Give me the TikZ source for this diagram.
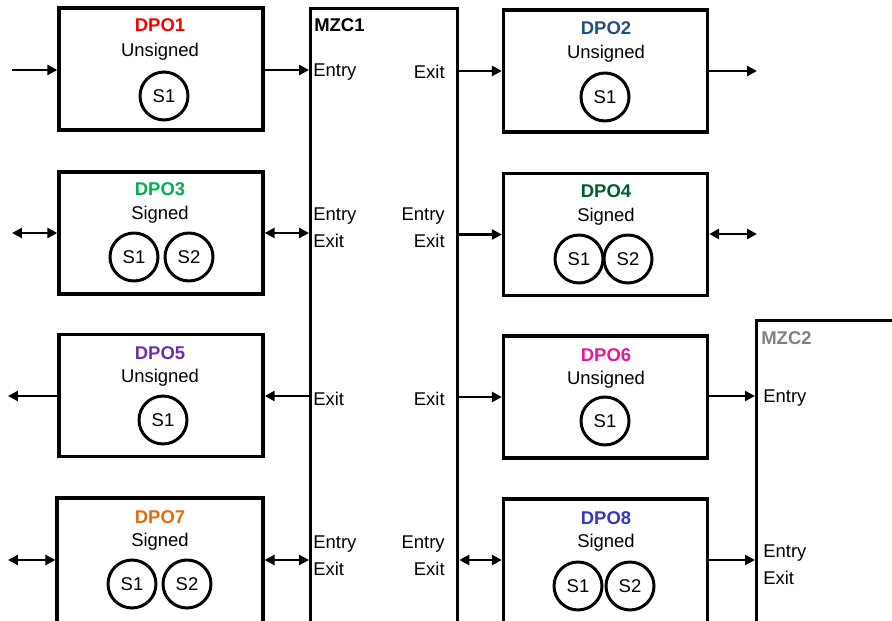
\documentclass[tikz,border=0pt]{standalone}
\usepackage{fontspec}
\setmainfont{Liberation Sans}
\usepackage{xcolor}
\usetikzlibrary{arrows.meta}

\definecolor{dpoRed}{HTML}{FF0000}
\definecolor{dpoNavy}{HTML}{264C84}
\definecolor{dpoGreen}{HTML}{00B050}
\definecolor{dpoDarkGreen}{HTML}{005C2C}
\definecolor{dpoPurple}{HTML}{7030A0}
\definecolor{dpoPink}{HTML}{E6179B}
\definecolor{dpoOrange}{HTML}{E46C0A}
\definecolor{dpoBlue}{HTML}{3636C4}
\definecolor{zoneGray}{HTML}{808080}

\begin{document}
\begin{tikzpicture}[x=0.02cm, y=-0.02cm,
    every node/.style={font=\fontsize{10.5}{12.6}\selectfont},
    dpo/.style={draw, line width=1.9pt, minimum width=4.08cm, minimum height=2.44cm},
    zone/.style={draw, line width=1.9pt, anchor=north west},
    sig/.style={draw, circle, line width=1.7pt, minimum size=0.96cm, inner sep=0pt},
    title/.style={font=\fontsize{10.5}{12.6}\selectfont\bfseries},
    port/.style={inner sep=0pt},
    one/.style={line width=1.5pt, -{Triangle[length=0.2cm, width=0.2cm]}},
    two/.style={line width=1.5pt, {Triangle[length=0.2cm, width=0.2cm]}-{Triangle[length=0.2cm, width=0.2cm]}}]
    \useasboundingbox (0,0) rectangle (892,621);

    % Draw zones
    \node[zone, minimum width=2.94cm, minimum height=12.7cm] (mzc1) at (309,7) {};
    \node[zone, minimum width=3.2cm, minimum height=6.6cm] (mzc2) at (755,319) {};
    \node[title, anchor=west, port] (mzc1t) at (314,25) {MZC1};
    \node[title, anchor=west, port, text=zoneGray] (mzc2t) at (761,338) {MZC2};

    % Draw left column
    \node[dpo] (dpo1) at (161,69) {};
    \node[dpo] (dpo3) at (161,233) {};
    \node[dpo] (dpo5) at (161,395.5) {};
    \node[dpo, minimum width=4.12cm, minimum height=2.56cm] (dpo7) at (160,562) {};

    % Draw right column
    \node[dpo] (dpo2) at (605.5,71) {};
    \node[dpo] (dpo4) at (605.5,234.5) {};
    \node[dpo] (dpo6) at (605.5,397) {};
    \node[dpo, minimum height=2.54cm] (dpo8) at (605.5,562.5) {};

    % Titles and signing
    \node[title, text=dpoRed] (t1) at (160,25) {DPO1};
    \node (k1) at (160,52) {Unsigned};
    \node[title, text=dpoGreen] (t3) at (160,189) {DPO3};
    \node (k3) at (160,215) {Signed};
    \node[title, text=dpoPurple] (t5) at (160,353) {DPO5};
    \node (k5) at (160,378) {Unsigned};
    \node[title, text=dpoOrange] (t7) at (160,517) {DPO7};
    \node (k7) at (160,542) {Signed};
    \node[title, text=dpoNavy] (t2) at (606,28) {DPO2};
    \node (k2) at (606,54) {Unsigned};
    \node[title, text=dpoDarkGreen] (t4) at (606,191) {DPO4};
    \node (k4) at (606,217) {Signed};
    \node[title, text=dpoPink] (t6) at (606,355) {DPO6};
    \node (k6) at (606,380) {Unsigned};
    \node[title, text=dpoBlue] (t8) at (606,518) {DPO8};
    \node (k8) at (606,543) {Signed};

    % Keys
    \node[sig] (s11) at (164,96) {S1};
    \node[sig] (s31) at (134,257) {S1};
    \node[sig] (s32) at (189,257) {S2};
    \node[sig] (s51) at (163,420) {S1};
    \node[sig] (s71) at (132,584) {S1};
    \node[sig] (s72) at (187,584) {S2};
    \node[sig] (s21) at (605,97) {S1};
    \node[sig] (s41) at (579,259) {S1};
    \node[sig] (s42) at (628,259) {S2};
    \node[sig] (s61) at (605,421) {S1};
    \node[sig] (s81) at (578,586) {S1};
    \node[sig] (s82) at (630,586) {S2};

    % Ports of MZC1
    \node[port, anchor=west] (e1) at (313,72) {Entry};
    \node[port, anchor=east] (x1) at (445,72) {Exit};
    \node[port, anchor=west] (e3) at (313,216) {Entry};
    \node[port, anchor=west] (x3) at (313,241) {Exit};
    \node[port, anchor=east] (e4) at (445,216) {Entry};
    \node[port, anchor=east] (x4) at (445,241) {Exit};
    \node[port, anchor=west] (x5) at (313,399) {Exit};
    \node[port, anchor=east] (x6) at (445,399) {Exit};
    \node[port, anchor=west] (e7) at (313,544) {Entry};
    \node[port, anchor=west] (x7) at (313,569) {Exit};
    \node[port, anchor=east] (e8) at (445,544) {Entry};
    \node[port, anchor=east] (x8) at (445,569) {Exit};

    % Ports of MZC2
    \node[port, anchor=west] (e6) at (763,398) {Entry};
    \node[port, anchor=west] (e9) at (763,553) {Entry};
    \node[port, anchor=west] (x9) at (763,578) {Exit};

    % Free ends
    \coordinate (l1) at (12,70);
    \coordinate (l3) at (12,233);
    \coordinate (l5) at (8,396);
    \coordinate (l7) at (8,560);
    \coordinate (r2) at (757,71);
    \coordinate (r4) at (757,234);

    % Row 1
    \draw[one] (l1) -- (l1 -| dpo1.west);
    \draw[one] (dpo1.east |- l1) -- (l1 -| mzc1.west);
    \draw[one] (mzc1.east |- dpo2.east) -- (dpo2.west);
    \draw[one] (dpo2.east) -- (r2);

    % Row 2
    \draw[two] (l3) -- (dpo3.west);
    \draw[two] (dpo3.east) -- (dpo3.east -| mzc1.west);
    \draw[one] (mzc1.east |- dpo4.west) -- (dpo4.west);
    \draw[two] (dpo4.east |- r4) -- (r4);

    % Row 3
    \draw[one] (dpo5.west |- l5) -- (l5);
    \draw[one] (mzc1.west |- l5) -- (dpo5.east |- l5);
    \draw[one] (mzc1.east |- dpo6.west) -- (dpo6.west);
    \draw[one] (dpo6.east |- l5) -- (mzc2.west |- l5);

    % Row 4
    \draw[two] (l7) -- (dpo7.west |- l7);
    \draw[two] (dpo7.east |- l7) -- (mzc1.west |- l7);
    \draw[two] (mzc1.east |- l7) -- (dpo8.west |- l7);
    \draw[one] (dpo8.east |- l7) -- (mzc2.west |- l7);
\end{tikzpicture}
\end{document}
